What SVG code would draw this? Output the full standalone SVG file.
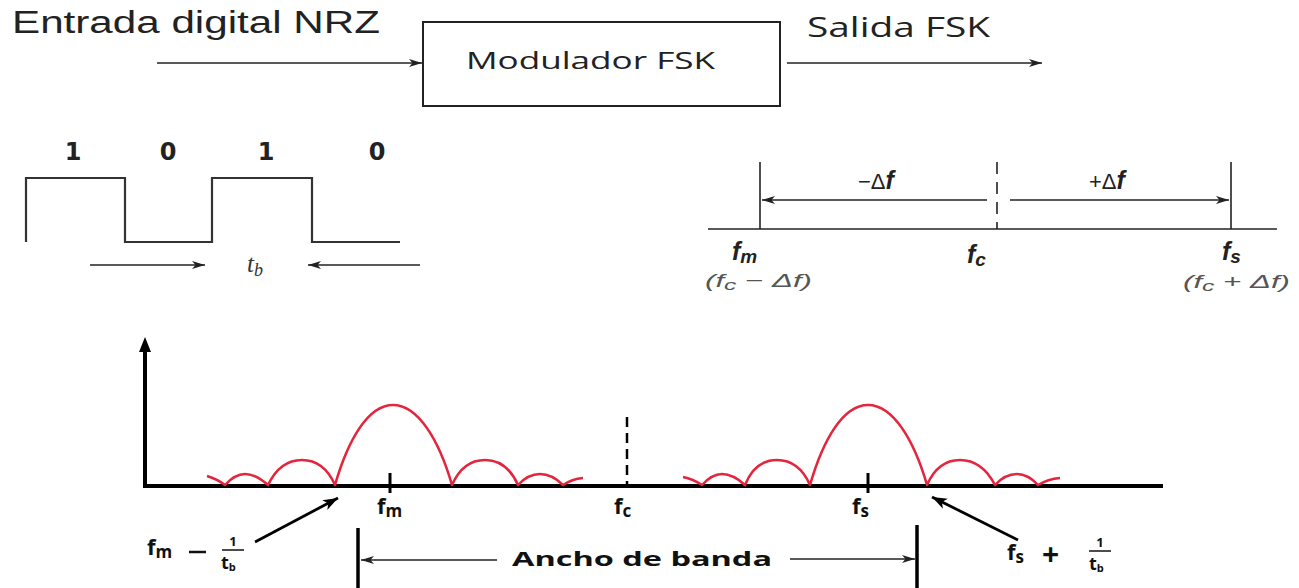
<svg xmlns="http://www.w3.org/2000/svg" width="1299" height="588" viewBox="0 0 1299 588">
<style>
.t{font-family:"Liberation Sans",Arial,sans-serif;fill:#222}
.o{font-family:"Open Sans","Liberation Sans",sans-serif;fill:#222}
.ob{font-family:"Open Sans","Liberation Sans",sans-serif;font-weight:bold;fill:#111}
.dg{font-family:"DejaVu Sans","Liberation Sans",sans-serif;font-weight:bold;fill:#222}
.it{font-family:"Liberation Sans",Arial,sans-serif;font-style:italic;font-weight:bold;fill:#222}
.si{font-family:"Liberation Sans",Arial,sans-serif;font-style:italic;fill:#555}
.ser{font-family:"Liberation Serif","Times New Roman",serif;font-style:italic;fill:#333}
.ln{stroke:#222;stroke-width:1.6;fill:none}
.wave{stroke:#333;stroke-width:2.2;fill:none}
.red{stroke:#e3253d;stroke-width:2.6;fill:none;stroke-linejoin:round}
.ax{stroke:#000;stroke-width:4;fill:none}
</style>
<defs>
<marker id="ah" markerUnits="userSpaceOnUse" markerWidth="14" markerHeight="10" refX="13" refY="5" orient="auto">
<path d="M0,1 L13,5 L0,9 L3.5,5 z" fill="#222"/>
</marker>
<marker id="ahb" markerUnits="userSpaceOnUse" markerWidth="16" markerHeight="12" refX="15" refY="6" orient="auto">
<path d="M0,0.5 L15,6 L0,11.5 L4,6 z" fill="#000"/>
</marker>
</defs>

<g id="input-label"><text class="t" x="12" y="33" font-size="31" textLength="368" lengthAdjust="spacingAndGlyphs">Entrada digital NRZ</text></g>
<g id="modulator">
<rect x="423" y="22" width="357" height="84" fill="#fff" stroke="#222" stroke-width="2"/>
<text class="o" x="466" y="69" font-size="24" textLength="249" lengthAdjust="spacingAndGlyphs">Modulador FSK</text>
</g>
<g id="output-label"><text class="o" x="807" y="37" font-size="27" textLength="183" lengthAdjust="spacingAndGlyphs">Salida FSK</text></g>

<g id="nrz-wave">
<path class="wave" d="M26,242 V178 H125 V242 H212 V178 H312 V242 H400"/>
<text class="dg" font-size="24" text-anchor="middle" x="73" y="160">1</text>
<text class="dg" font-size="24" text-anchor="middle" x="168" y="160">0</text>
<text class="dg" font-size="24" text-anchor="middle" x="266" y="160">1</text>
<text class="dg" font-size="24" text-anchor="middle" x="377" y="160">0</text>
<text class="ser" x="247" y="272" font-size="25">t<tspan font-size="18" dy="4">b</tspan></text>
</g>

<g id="freq-diagram">
<line class="ln" x1="708" y1="229" x2="1277" y2="229"/>
<line class="ln" x1="760" y1="162" x2="760" y2="229"/>
<line class="ln" x1="1231" y1="162" x2="1231" y2="229"/>
<line class="ln" x1="997" y1="162" x2="997" y2="229" stroke-dasharray="12,8"/>
<text class="t" x="858" y="189" font-size="22" fill="#444">−Δ<tspan class="it" font-size="25">f</tspan></text>
<text class="t" x="1089" y="189" font-size="22" fill="#444">+Δ<tspan class="it" font-size="25">f</tspan></text>
<text class="it" x="732" y="260" font-size="25">f<tspan font-size="19" dy="3">m</tspan></text>
<text class="it" x="967" y="263" font-size="25">f<tspan font-size="19" dy="3">c</tspan></text>
<text class="it" x="1222" y="260" font-size="25">f<tspan font-size="19" dy="3">s</tspan></text>
<text class="si" x="705" y="287" font-size="19" textLength="107" lengthAdjust="spacingAndGlyphs">(f<tspan font-size="15" dy="3">c</tspan><tspan dy="-3"> − Δf)</tspan></text>
<text class="si" x="1183" y="288" font-size="19" textLength="107" lengthAdjust="spacingAndGlyphs">(f<tspan font-size="15" dy="3">c</tspan><tspan dy="-3"> + Δf)</tspan></text>
</g>

<g id="spectrum">
<line class="ax" x1="145" y1="486" x2="1163" y2="486"/>
<line class="ax" x1="145" y1="488" x2="145" y2="350"/>
<path d="M145,337 L151,352 L139,352 z" fill="#000"/>
<line x1="390" y1="473" x2="390" y2="493" stroke="#000" stroke-width="3"/>
<line x1="868" y1="473" x2="868" y2="493" stroke="#000" stroke-width="3"/>
<line x1="627" y1="417" x2="627" y2="484" stroke="#000" stroke-width="2.5" stroke-dasharray="10,6"/>
<path class="red" d="M207,476 Q217,479 225,485 Q235,474 245,474 Q256,474 268,485 Q280,460 302,460 Q324,460 335,485 C348,440 368,405 393,405 C418,405 439,440 452,485 Q463,460 485,460 Q507,460 518,485 Q528,474 540,474 Q552,474 563,485 Q572,479 583,478"/>
<path class="red" d="M683,477 Q693,479 702,485 Q712,474 722,474 Q733,474 745,485 Q755,460 777,460 Q799,460 810,485 C823,440 843,405 868,405 C893,405 914,440 927,485 Q938,460 960,460 Q982,460 995,485 Q1005,474 1017,474 Q1028,474 1038,485 Q1048,479 1060,478"/>
<text class="ob" x="377" y="514" font-size="22">f<tspan font-size="17" dy="3">m</tspan></text>
<text class="ob" x="614" y="514" font-size="22">f<tspan font-size="17" dy="3">c</tspan></text>
<text class="ob" x="852" y="514" font-size="22">f<tspan font-size="17" dy="3">s</tspan></text>
</g>

<g id="label-fm-minus">
<text class="ob" x="147" y="555" font-size="22">f<tspan font-size="17" dy="3">m</tspan></text>
<line x1="189" y1="552" x2="206" y2="552" stroke="#111" stroke-width="2.5"/>
<text class="ob" x="233" y="546" font-size="13" text-anchor="middle">1</text>
<line x1="222" y1="550" x2="244" y2="550" stroke="#111" stroke-width="1.5"/>
<text class="ob" x="221" y="569" font-size="18">t<tspan font-size="11" dy="2">b</tspan></text>
</g>
<g id="label-fs-plus">
<text class="ob" x="1007" y="560" font-size="22">f<tspan font-size="17" dy="3">s</tspan></text>
<text class="ob" x="1042" y="565" font-size="30">+</text>
<text class="ob" x="1100" y="547" font-size="13" text-anchor="middle">1</text>
<line x1="1089" y1="551" x2="1111" y2="551" stroke="#111" stroke-width="1.5"/>
<text class="ob" x="1089" y="570" font-size="18">t<tspan font-size="11" dy="2">b</tspan></text>
</g>
<g id="bandwidth">
<line x1="358" y1="528" x2="358" y2="588" stroke="#000" stroke-width="3.5"/>
<line x1="917" y1="525" x2="917" y2="588" stroke="#000" stroke-width="3.5"/>
<text class="ob" x="512" y="566" font-size="20" textLength="260" lengthAdjust="spacingAndGlyphs">Ancho de banda</text>
</g>

<g id="connectors">
<line class="ln" x1="157" y1="63" x2="422" y2="63" marker-end="url(#ah)"/>
<line class="ln" x1="787" y1="63" x2="1042" y2="63" marker-end="url(#ah)"/>
<line class="ln" x1="90" y1="265" x2="205" y2="265" marker-end="url(#ah)"/>
<line class="ln" x1="420" y1="265" x2="308" y2="265" marker-end="url(#ah)"/>
<line class="ln" x1="987" y1="200" x2="762" y2="200" marker-end="url(#ah)"/>
<line class="ln" x1="1010" y1="200" x2="1229" y2="200" marker-end="url(#ah)"/>
<line x1="255" y1="542" x2="338" y2="498" stroke="#000" stroke-width="2.8" marker-end="url(#ahb)"/>
<line x1="1018" y1="540" x2="932" y2="497" stroke="#000" stroke-width="2.8" marker-end="url(#ahb)"/>
<line class="ln" x1="497" y1="560" x2="361" y2="560" marker-end="url(#ah)"/>
<line class="ln" x1="790" y1="559" x2="915" y2="559" marker-end="url(#ah)"/>
</g>
</svg>
